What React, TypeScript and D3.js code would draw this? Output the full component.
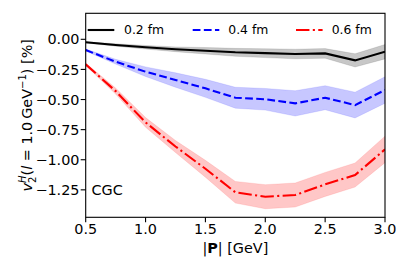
import React from 'react';
import * as d3 from 'd3';

const momenta = [0.5, 0.75, 1.0, 1.25, 1.5, 1.75, 2.0, 2.25, 2.5, 2.75, 3.0];

const v2Small = [-0.025, -0.047, -0.066, -0.083, -0.095, -0.108, -0.115, -0.122, -0.117, -0.175, -0.103];
const errSmall = [0.005, 0.01, 0.015, 0.02, 0.027, 0.033, 0.037, 0.04, 0.04, 0.055, 0.06];

const v2Mid = [-0.089, -0.186, -0.269, -0.338, -0.407, -0.485, -0.498, -0.532, -0.485, -0.546, -0.421];
const errMid = [0.008, 0.02, 0.04, 0.06, 0.075, 0.087, 0.09, 0.105, 0.1, 0.107, 0.11];

const v2Large = [-0.208, -0.43, -0.69, -0.89, -1.075, -1.27, -1.307, -1.293, -1.205, -1.127, -0.914];
const errLarge = [0.01, 0.025, 0.04, 0.05, 0.07, 0.09, 0.1, 0.1, 0.1, 0.1, 0.11];

const seriesLabels = ['0.2 fm', '0.4 fm', '0.6 fm'];
const xTicks = [0.5, 1.0, 1.5, 2.0, 2.5, 3.0];
const yTicks = [0, -0.25, -0.5, -0.75, -1.0, -1.25];

const W = 407;
const H = 271;
const left = 85.7;
const right = 385;
const top = 13.3;
const bottom = 217.3;
const font = 'DejaVu Sans';
const fs = 14.4;
const lw = 2.1;

const series = [
  { label: seriesLabels[0], values: v2Small, err: errSmall, color: '#000000', dash: undefined, lx: 87.7, tx: 124 },
  { label: seriesLabels[1], values: v2Mid, err: errMid, color: '#0000ff', dash: `${3.7 * lw} ${1.6 * lw}`, lx: 192.7, tx: 228.3 },
  { label: seriesLabels[2], values: v2Large, err: errLarge, color: '#ff0000', dash: `${6.4 * lw} ${1.6 * lw} ${1 * lw} ${1.6 * lw}`, lx: 296, tx: 331.7 },
];

const fmt = (v: number) => (v < 0 ? '\u2212' : '') + Math.abs(v).toFixed(2);

export default function App() {
  const x = d3.scaleLinear().domain([0.5, 3.0]).range([left, right]);
  const y = d3.scaleLinear().domain([-1.478, 0.216]).range([bottom, top]);

  const line = d3.line<number>().x((_, i) => x(momenta[i])).y(d => y(d));

  return (
    <svg width={W} height={H} style={{ position: 'absolute', left: 0, top: 0, background: '#fff' }}
      fontFamily={font}>
      <defs>
        <clipPath id="plot">
          <rect x={left} y={top} width={right - left} height={bottom - top} />
        </clipPath>
      </defs>
      <g clipPath="url(#plot)">
        {series.map(s => {
          const band = d3.area<number>()
            .x((_, i) => x(momenta[i]))
            .y0((d, i) => y(d - s.err[i]))
            .y1((d, i) => y(d + s.err[i]));
          return (
            <g key={s.label}>
              <path d={band(s.values) || ''} fill={s.color} fillOpacity={0.22} stroke={s.color} strokeOpacity={0.1} strokeWidth={1} />
              <path d={line(s.values) || ''} fill="none" stroke={s.color} strokeWidth={lw} strokeDasharray={s.dash} />
            </g>
          );
        })}
      </g>

      <rect x={left} y={top} width={right - left} height={bottom - top} fill="none" stroke="#000" strokeWidth={1.1} />

      {xTicks.map(t => (
        <g key={t}>
          <line x1={x(t)} x2={x(t)} y1={bottom} y2={bottom + 5} stroke="#000" strokeWidth={1.1} />
          <text x={x(t)} y={234.3} textAnchor="middle" fontSize={fs}>{t.toFixed(1)}</text>
        </g>
      ))}
      {yTicks.map(t => (
        <g key={t}>
          <line x1={left - 5} x2={left} y1={y(t)} y2={y(t)} stroke="#000" strokeWidth={1.1} />
          <text x={79.5} y={y(t)} dy="0.36em" textAnchor="end" fontSize={fs}>{fmt(t)}</text>
        </g>
      ))}

      <text x={(left + right) / 2} y={253.3} textAnchor="middle" fontSize={fs}>
        |<tspan fontWeight="bold">P</tspan>| [GeV]
      </text>

      <text transform={`translate(31.5, ${(top + bottom) / 2}) rotate(-90)`} textAnchor="middle" fontSize={fs}>
        <tspan fontStyle="italic">v</tspan>
        <tspan fontSize={fs * 0.7} dy={4}>2</tspan>
        <tspan fontSize={fs * 0.7} fontStyle="italic" dx={-fs * 0.45} dy={-10}>H</tspan>
        <tspan dy={6}>(</tspan>
        <tspan fontStyle="italic">l</tspan>
        <tspan>{' = 1.0\u2009GeV'}</tspan>
        <tspan fontSize={fs * 0.7} dy={-6}>{'\u22121'}</tspan>
        <tspan dy={6}>) [%]</tspan>
      </text>

      <text x={91.5} y={y(-1.25)} dy="0.36em" fontSize={fs}>CGC</text>

      {series.map(s => (
        <g key={'leg' + s.label}>
          <line x1={s.lx} x2={s.lx + 26.6} y1={30} y2={30} stroke={s.color} strokeWidth={lw} strokeDasharray={s.dash} />
          <text x={s.tx} y={30} dy="0.36em" fontSize={12.4}>{s.label}</text>
        </g>
      ))}
    </svg>
  );
}
